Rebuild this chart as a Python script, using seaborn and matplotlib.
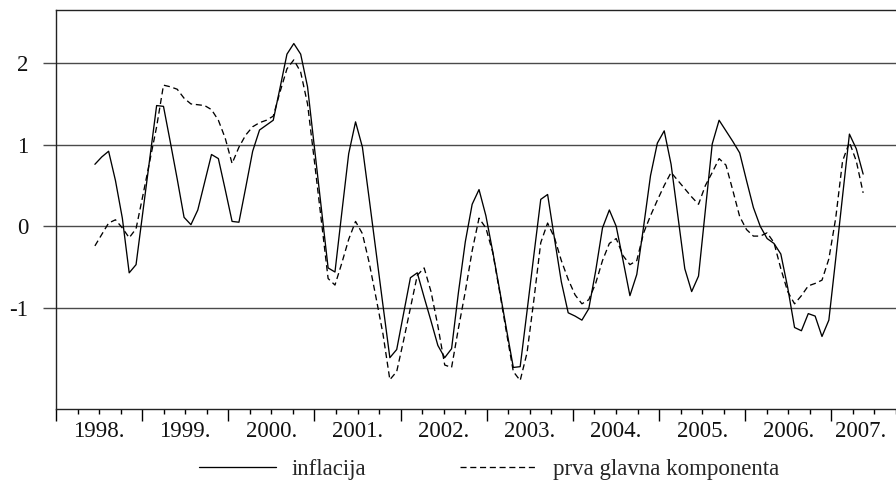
import numpy as np
import pandas as pd
import matplotlib
matplotlib.use("Agg")
import matplotlib.pyplot as plt
import seaborn as sns

# monthly observations (Jan 1998 - May 2007)
inflacija = [
    0.76, 0.85, 0.92, 0.56, 0.10, -0.57, -0.47, 0.18, 0.83, 1.48,
    1.47, 1.03, 0.58, 0.11, 0.02, 0.20, 0.54, 0.88, 0.83, 0.45,
    0.06, 0.05, 0.48, 0.92, 1.18, 1.24, 1.30, 1.70, 2.11, 2.24,
    2.11, 1.71, 0.97, 0.23, -0.51, -0.56, 0.17, 0.89, 1.28, 0.97,
    0.33, -0.32, -0.97, -1.61, -1.51, -1.07, -0.63, -0.57, -0.87, -1.16,
    -1.46, -1.61, -1.50, -0.81, -0.19, 0.27, 0.45, 0.13, -0.31, -0.78,
    -1.26, -1.73, -1.72, -1.04, -0.35, 0.33, 0.39, -0.15, -0.68, -1.06,
    -1.10, -1.15, -1.01, -0.55, -0.02, 0.20, 0.00, -0.42, -0.85, -0.59,
    0.00, 0.62, 1.02, 1.17, 0.76, 0.12, -0.52, -0.80, -0.61, 0.20,
    1.01, 1.30, 1.17, 1.04, 0.90, 0.56, 0.23, 0.00, -0.15, -0.21,
    -0.34, -0.75, -1.24, -1.28, -1.07, -1.10, -1.35, -1.15, -0.40, 0.37,
    1.13, 0.95, 0.64,
]
komponenta = [
    -0.24, -0.10, 0.04, 0.08, -0.02, -0.14, -0.03, 0.38, 0.80, 1.22,
    1.73, 1.71, 1.68, 1.57, 1.50, 1.49, 1.48, 1.43, 1.30, 1.08,
    0.77, 0.97, 1.12, 1.22, 1.27, 1.30, 1.35, 1.65, 1.93, 2.04,
    1.89, 1.50, 0.80, 0.08, -0.64, -0.72, -0.45, -0.16, 0.06, -0.09,
    -0.45, -0.88, -1.32, -1.88, -1.78, -1.40, -1.00, -0.60, -0.51, -0.80,
    -1.22, -1.70, -1.73, -1.25, -0.80, -0.30, 0.10, -0.02, -0.32, -0.80,
    -1.30, -1.78, -1.89, -1.55, -0.90, -0.20, 0.04, -0.14, -0.42, -0.65,
    -0.84, -0.95, -0.90, -0.70, -0.42, -0.21, -0.15, -0.36, -0.47, -0.42,
    -0.08, 0.13, 0.32, 0.50, 0.66, 0.56, 0.46, 0.36, 0.27, 0.50,
    0.66, 0.83, 0.75, 0.44, 0.12, -0.04, -0.12, -0.12, -0.08, -0.20,
    -0.52, -0.80, -0.95, -0.85, -0.73, -0.70, -0.66, -0.40, 0.10, 0.80,
    1.03, 0.80, 0.41,
]
year_labels = ["1998.", "1999.", "2000.", "2001.", "2002.", "2003.",
               "2004.", "2005.", "2006.", "2007."]
y_ticks = [-1, 0, 1, 2]
series_names = ["inflacija", "prva glavna komponenta"]

sns.set_style("white")
plt.rcParams["font.family"] = ["Liberation Serif", "DejaVu Serif"]
plt.rcParams["axes.unicode_minus"] = False

df = pd.DataFrame({
    "t": np.arange(len(inflacija)),
    series_names[0]: inflacija,
    series_names[1]: komponenta,
})

fig = plt.figure(figsize=(8.96, 4.8), dpi=100)
ax = fig.add_axes([56 / 896, 1 - 409 / 480, 1 - 56 / 896, (409 - 10) / 480])

sns.lineplot(data=df, x="t", y=series_names[0], ax=ax, color="black",
             lw=0.95, label=series_names[0])
sns.lineplot(data=df, x="t", y=series_names[1], ax=ax, color="black",
             lw=0.95, linestyle=(0, (4.6, 2.8)), label=series_names[1])

AX_START = -5.67
YEAR_SPAN = 12.56
ax.set_xlim(AX_START, 116.51)
ax.set_ylim(-2.239, 2.651)
ax.set_xlabel("")
ax.set_ylabel("")

major = [AX_START + YEAR_SPAN * k for k in range(10)]
minor = [AX_START + YEAR_SPAN * k / 4 for k in range(40) if k % 4]
ax.set_xticks(major)
ax.set_xticks(minor, minor=True)
ax.tick_params(axis="x", which="major", bottom=True, length=8.6, width=1.0,
               color="black", labelbottom=False, direction="out")
ax.tick_params(axis="x", which="minor", bottom=True, length=3.8, width=1.0,
               color="black", direction="out")

centers = [AX_START + YEAR_SPAN * (k + 0.5) for k in range(9)] + [111.7]
sec = ax.secondary_xaxis("bottom")
sec.set_xticks(centers, labels=year_labels)
sec.tick_params(length=0, pad=8.5, labelsize=16.5, colors="#111111")
for s in sec.spines.values():
    s.set_visible(False)

ax.set_yticks(y_ticks)
ax.set_yticklabels([str(v) for v in y_ticks])
ax.tick_params(axis="y", left=True, length=9.4, width=1.0, color="#4a4a4a",
               pad=10.5, labelsize=16.5, labelcolor="#111111", direction="out")
ax.yaxis.grid(True, color="#4a4a4a", lw=1.0)
ax.xaxis.grid(False)
ax.set_axisbelow(True)

for side in ["left", "top", "bottom"]:
    ax.spines[side].set_visible(True)
    ax.spines[side].set_color("#222222")
    ax.spines[side].set_linewidth(1.0)
ax.spines["right"].set_visible(False)

ax.legend(loc="center", bbox_to_anchor=(0.5458, 0.0229),
          bbox_transform=fig.transFigure, ncol=2, frameon=False,
          fontsize=16.5, handlelength=3.4, handletextpad=0.66,
          columnspacing=4.1)

fig.savefig("out.png", dpi=100)
